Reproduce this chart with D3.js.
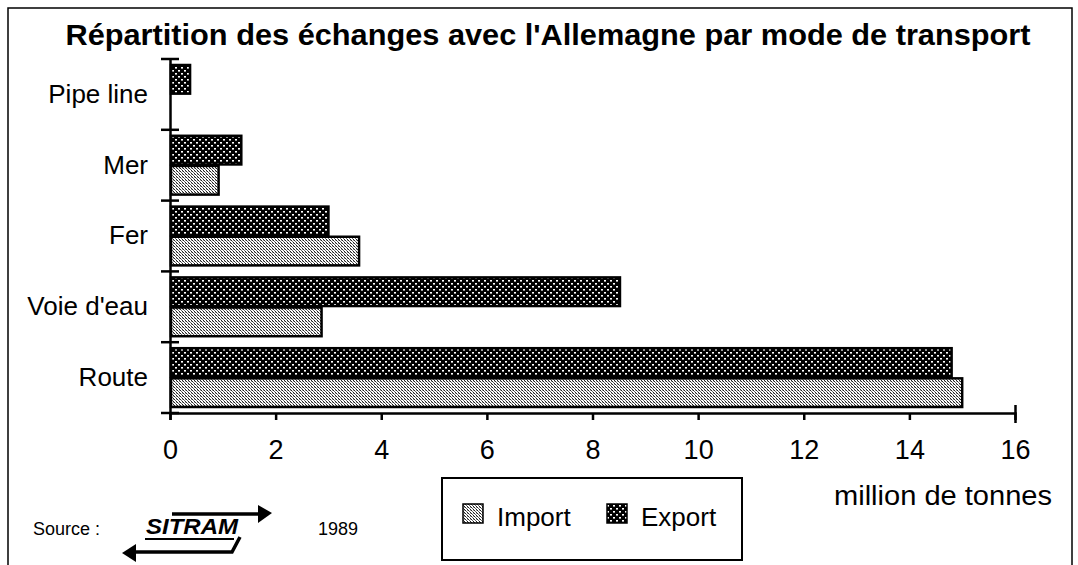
<!DOCTYPE html>
<html><head><meta charset="utf-8">
<script src="https://cdn.jsdelivr.net/npm/d3@7"></script>
<style>
body{margin:0;background:#fff;}
svg text{font-family:"Liberation Sans",Arial,Helvetica,sans-serif;fill:#000;}
</style></head>
<body><svg id="c" width="1078" height="565"></svg>
<script>
const title = "Répartition des échanges avec l'Allemagne par mode de transport";
const categories = ["Pipe line","Mer","Fer","Voie d'eau","Route"];
const series = ["Export","Import"];
const exportValues = [0.38, 1.35, 3.0, 8.52, 14.8];
const importValues = [0, 0.92, 3.58, 2.87, 15.0];
const xTicks = [0,2,4,6,8,10,12,14,16];
const xLabel = "million de tonnes";
const legendLabels = ["Import","Export"];
const sourceText = "Source :";
const sourceYear = "1989";

const svg = d3.select("#c");
const defs = svg.append("defs");
const pi = defs.append("pattern").attr("id","pImp").attr("patternUnits","userSpaceOnUse").attr("width",3).attr("height",3);
pi.append("rect").attr("width",3).attr("height",3).attr("fill","#fff");
pi.append("rect").attr("x",0).attr("y",0).attr("width",1).attr("height",1).attr("fill","#222");
pi.append("rect").attr("x",1).attr("y",1).attr("width",1).attr("height",1).attr("fill","#666");
pi.append("rect").attr("x",2).attr("y",2).attr("width",1).attr("height",1).attr("fill","#222");
pi.append("rect").attr("x",2).attr("y",0).attr("width",1).attr("height",1).attr("fill","#aaa");
const pe = defs.append("pattern").attr("id","pExp").attr("patternUnits","userSpaceOnUse").attr("width",6).attr("height",6);
pe.append("rect").attr("width",6).attr("height",6).attr("fill","#000");
pe.append("rect").attr("x",1).attr("y",1).attr("width",2).attr("height",1.6).attr("fill","#fff");
pe.append("rect").attr("x",4).attr("y",4).attr("width",2).attr("height",1.6).attr("fill","#fff");

svg.append("rect").attr("x",8).attr("y",8).attr("width",1064).attr("height",570)
  .attr("fill","none").attr("stroke","#000").attr("stroke-width",1.5);

svg.append("text").attr("x",548).attr("y",45).attr("text-anchor","middle")
  .attr("font-size",30).attr("font-weight","bold")
  .attr("textLength",965).attr("lengthAdjust","spacingAndGlyphs").text(title);

const x = d3.scaleLinear().domain([0,16]).range([170,1015]);
const y = d3.scaleBand().domain(categories).range([59,413]).padding(0);
const yIn = d3.scaleBand().domain(series).range([6, y.bandwidth()-6]).paddingInner(0.05);

const rows = categories.map((c,i)=>({cat:c, Export:exportValues[i], Import:importValues[i]}));
const g = svg.append("g");
rows.forEach(r=>{
  series.forEach(s=>{
    if(r[s] <= 0) return;
    g.append("rect")
      .attr("x", x(0)+1)
      .attr("y", y(r.cat)+yIn(s))
      .attr("width", x(r[s])-x(0)-1)
      .attr("height", yIn.bandwidth())
      .attr("fill", s==="Export" ? "url(#pExp)" : "url(#pImp)")
      .attr("stroke","#000").attr("stroke-width",2.5);
  });
});

const yAxis = d3.axisLeft(y).tickSize(0).tickPadding(22);
const ya = svg.append("g").attr("transform",`translate(${x(0)},0)`).call(yAxis);
ya.select(".domain").attr("stroke","#000").attr("stroke-width",2.5);
ya.selectAll("text").attr("font-size",26).attr("font-family","Liberation Sans, Arial, sans-serif");
const bounds = categories.map(c=>y(c)).concat([y.range()[1]]);
svg.selectAll(".ytick").data(bounds).enter().append("line")
  .attr("x1",161).attr("x2",179).attr("y1",d=>d).attr("y2",d=>d)
  .attr("stroke","#000").attr("stroke-width",2.5);

const xAxis = d3.axisBottom(x).tickValues(xTicks).tickSize(7).tickPadding(20).tickFormat(d3.format("d"));
const xa = svg.append("g").attr("transform",`translate(0,413)`).call(xAxis);
xa.select(".domain").attr("stroke","#000").attr("stroke-width",2.5);
xa.selectAll(".tick line").attr("stroke","#000").attr("stroke-width",2.5);
xa.selectAll("text").attr("font-size",27).attr("font-family","Liberation Sans, Arial, sans-serif");
xa.selectAll(".tick").filter(d=>d===16).select("line").attr("y1",-8).attr("y2",10);

svg.append("text").attr("x",943).attr("y",505).attr("text-anchor","middle").attr("font-size",27)
  .attr("textLength",218).attr("lengthAdjust","spacingAndGlyphs").text(xLabel);

const lg = svg.append("g");
lg.append("rect").attr("x",442).attr("y",478).attr("width",300).attr("height",82)
  .attr("fill","#fff").attr("stroke","#000").attr("stroke-width",2);
const legX = [463, 607];
legendLabels.forEach((l,i)=>{
  lg.append("rect").attr("x",legX[i]).attr("y",504).attr("width",20).attr("height",19)
    .attr("fill", l==="Export" ? "url(#pExp)" : "url(#pImp)").attr("stroke","#000").attr("stroke-width",1.5);
  lg.append("text").attr("x",legX[i]+34).attr("y",526).attr("font-size",26).text(l);
});

svg.append("text").attr("x",33).attr("y",535).attr("font-size",18).text(sourceText);
svg.append("text").attr("x",318).attr("y",535).attr("font-size",18).text(sourceYear);
const logo = svg.append("g");
logo.append("text").attr("x",146).attr("y",534).attr("font-size",22).attr("font-weight","bold")
  .attr("font-style","italic").attr("textLength",92).attr("lengthAdjust","spacingAndGlyphs").text("SITRAM");
logo.append("line").attr("x1",172).attr("y1",514).attr("x2",262).attr("y2",514).attr("stroke","#000").attr("stroke-width",3.5);
logo.append("path").attr("d","M258,505 L272,513 L258,523 Z").attr("fill","#000");
logo.append("path").attr("d","M240,537 L232,552 L132,552").attr("fill","none").attr("stroke","#000").attr("stroke-width",3.5);
logo.append("path").attr("d","M136,544 L122,553 L136,562 Z").attr("fill","#000");
logo.append("line").attr("x1",145).attr("y1",539).attr("x2",234).attr("y2",539).attr("stroke","#000").attr("stroke-width",2);
</script></body></html>
